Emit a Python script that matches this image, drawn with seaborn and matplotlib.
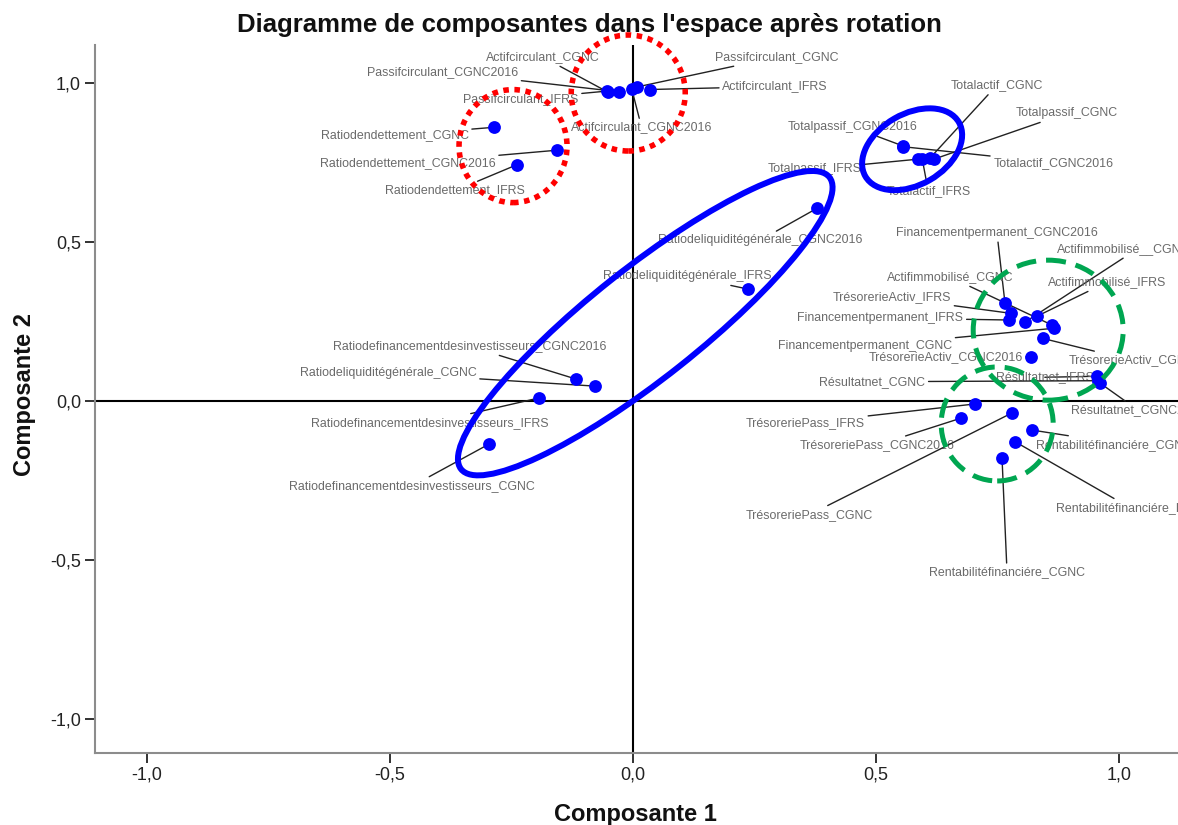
import matplotlib
matplotlib.use("Agg")
import matplotlib.pyplot as plt
import matplotlib.transforms as mtransforms
from matplotlib.patches import Ellipse
import pandas as pd
import seaborn as sns

# Rotated component loadings (Composante 1, Composante 2) for each variable
variables = [
    "Actifcirculant_CGNC", "Passifcirculant_CGNC2016", "Passifcirculant_IFRS",
    "Actifcirculant_CGNC2016", "Passifcirculant_CGNC", "Actifcirculant_IFRS",
    "Ratiodendettement_CGNC", "Ratiodendettement_CGNC2016", "Ratiodendettement_IFRS",
    "Totalactif_CGNC", "Totalpassif_CGNC", "Totalpassif_CGNC2016",
    "Totalactif_CGNC2016", "Totalpassif_IFRS", "Totalactif_IFRS",
    "Ratiodeliquiditégénérale_CGNC2016", "Ratiodeliquiditégénérale_IFRS",
    "Ratiodefinancementdesinvestisseurs_CGNC2016", "Ratiodeliquiditégénérale_CGNC",
    "Ratiodefinancementdesinvestisseurs_IFRS", "Ratiodefinancementdesinvestisseurs_CGNC",
    "Financementpermanent_CGNC2016", "TrésorerieActiv_IFRS", "Financementpermanent_IFRS",
    "Actifimmobilisé__CGNC2016", "Actifimmobilisé_IFRS", "Actifimmobilisé_CGNC",
    "Financementpermanent_CGNC", "TrésorerieActiv_CGNC", "TrésorerieActiv_CGNC2016",
    "Résultatnet_IFRS", "Résultatnet_CGNC", "Résultatnet_CGNC2016",
    "TrésoreriePass_IFRS", "TrésoreriePass_CGNC2016", "TrésoreriePass_CGNC",
    "Rentabilitéfinanciére_CGNC2016", "Rentabilitéfinanciére_IFRS", "Rentabilitéfinanciére_CGNC",
]
comp1 = [
    -0.052, -0.030, -0.054, -0.003, 0.008, 0.035,
    -0.287, -0.157, -0.238,
    0.610, 0.619, 0.556, 0.556, 0.587, 0.595,
    0.378, 0.237,
    -0.117, -0.078, -0.193, -0.296,
    0.765, 0.777, 0.774, 0.807, 0.831, 0.862, 0.866, 0.843, 0.818,
    0.954, 0.957, 0.961,
    0.704, 0.674, 0.780,
    0.820, 0.786, 0.759,
]
comp2 = [
    0.972, 0.973, 0.975, 0.983, 0.988, 0.980,
    0.861, 0.789, 0.744,
    0.763, 0.761, 0.802, 0.800, 0.761, 0.760,
    0.606, 0.352,
    0.069, 0.047, 0.010, -0.135,
    0.309, 0.276, 0.255, 0.249, 0.267, 0.239, 0.229, 0.197, 0.139,
    0.078, 0.064, 0.056,
    -0.009, -0.054, -0.037,
    -0.091, -0.128, -0.180,
]
axis_ticks = [-1.0, -0.5, 0.0, 0.5, 1.0]

# Label placement: offset of each label centre from its point, in pixels
label_offsets = [
    (-65, 35), (-176, 20), (-86, -8), (10, -39), (140, 30), (125, 3),
    (-99, -8), (-149, -13), (-62, -26),
    (67, 73), (133, 46), (-51, 19), (150, -16), (-104, -10), (6, -32),
    (-57, -32), (-61, 13),
    (-107, 33), (-207, 13), (-109, -25), (-77, -42),
    (-8, 70), (-119, 16), (-129, 2), (112, 73), (70, 34), (-102, 48),
    (-189, -18), (89, -22), (-85, 0),
    (-52, -1), (-226, -1), (38, -27),
    (-170, -19), (-84, -27), (-203, -102),
    (96, -15), (115, -66), (5, -114),
]

# Hand-drawn highlight rings: centre (data units), width/height/angle (pixels), style
highlights = [
    dict(c=(-0.010, 0.969), w=114, h=116, a=0, color="#ff0000", ls=(0, (1, 1)), lw=4.0),
    dict(c=(-0.247, 0.802), w=108, h=113, a=0, color="#ff0000", ls=(0, (1, 1)), lw=4.0),
    dict(c=(0.574, 0.792), w=108, h=71, a=30, color="#0000ff", ls="-", lw=4.3),
    dict(c=(0.025, 0.245), w=470, h=110, a=38.4, color="#0000ff", ls="-", lw=4.3),
    dict(c=(0.854, 0.223), w=150, h=140, a=0, color="#00a651", ls=(0, (4, 2)), lw=3.6),
    dict(c=(0.749, -0.072), w=112, h=114, a=0, color="#00a651", ls=(0, (4, 2)), lw=3.6),
]

df = pd.DataFrame({"variable": variables, "c1": comp1, "c2": comp2})

sns.set_theme(style="white")
plt.rcParams["font.family"] = ["Liberation Sans", "DejaVu Sans"]

W, H, DPI = 1178, 825, 100
fig = plt.figure(figsize=(W / DPI, H / DPI), dpi=DPI)
ax = fig.add_axes([95 / W, (H - 753) / H, (W - 95) / W, (753 - 45) / H])

ax.set_xlim(-1.107, 1.121)
ax.set_ylim(-1.107, 1.12)

# Reference axes through the origin
ax.axhline(0, color="black", lw=1.5, zorder=2)
ax.axvline(0, color="black", lw=1.5, zorder=2)

# Labels with leader lines
for name, x, y, (dx, dy) in zip(df["variable"], df["c1"], df["c2"], label_offsets):
    ax.annotate(
        name, xy=(x, y), xytext=(dx, dy), textcoords="offset pixels",
        ha="center", va="center", fontsize=8.9, color="#6a6a6a",
        arrowprops=dict(arrowstyle="-", color="#222222", lw=1.0,
                        shrinkA=0, shrinkB=0),
        zorder=3,
    )

sns.scatterplot(data=df, x="c1", y="c2", ax=ax, color="#0000ff", s=85,
                linewidth=0, zorder=5, legend=False)

for hl in highlights:
    tr = mtransforms.ScaledTranslation(hl["c"][0], hl["c"][1], ax.transData)
    e = Ellipse((0, 0), hl["w"], hl["h"], angle=hl["a"], transform=tr,
                fill=False, edgecolor=hl["color"], lw=hl["lw"],
                linestyle=hl["ls"], clip_on=False, zorder=10)
    e.set_capstyle("butt")
    ax.add_patch(e)

ax.set_xticks(axis_ticks)
ax.set_yticks(axis_ticks)
ax.set_xticklabels([f"{t:.1f}".replace(".", ",") for t in axis_ticks])
ax.set_yticklabels([f"{t:.1f}".replace(".", ",") for t in axis_ticks])
ax.tick_params(axis="both", which="both", direction="out", length=7, width=1.3,
               color="#222222", labelsize=13, labelcolor="#222222", pad=3,
               bottom=True, left=True)
ax.set_xlabel("")
ax.set_ylabel("")

for side in ("top", "right"):
    ax.spines[side].set_visible(False)
for side in ("left", "bottom"):
    ax.spines[side].set_color("#8c8c8c")
    ax.spines[side].set_linewidth(1.5)

fig.text(589 / W, 1 - 25 / H, "Diagramme de composantes dans l'espace après rotation",
         ha="center", va="center", fontsize=18.5, fontweight="bold", color="#111111")
fig.text(635 / W, 1 - 814 / H, "Composante 1", ha="center", va="center",
         fontsize=17, fontweight="bold", color="#111111")
fig.text(25 / W, 1 - 395 / H, "Composante 2", ha="center", va="center",
         rotation=90, fontsize=17, fontweight="bold", color="#111111")

fig.savefig("out.png", dpi=DPI)
